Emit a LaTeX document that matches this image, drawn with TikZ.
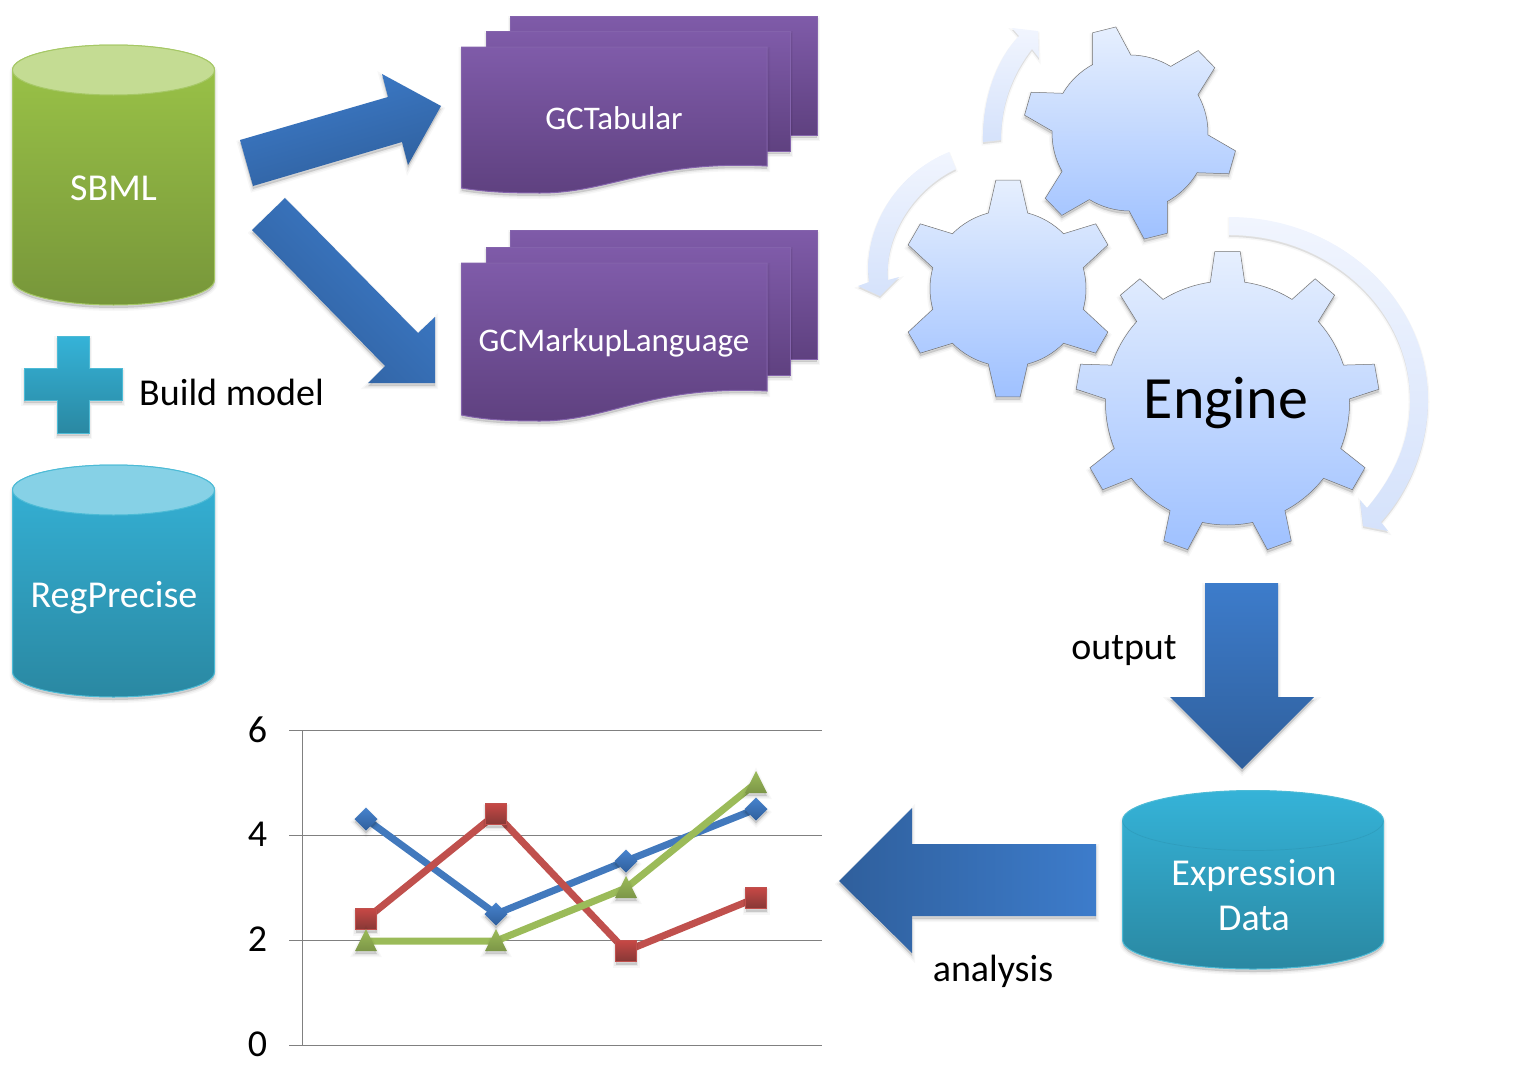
\documentclass[tikz,border=0pt]{standalone}
\usepackage{fontspec}
\setmainfont{Carlito}
\usetikzlibrary{shadings}
\definecolor{grnT}{HTML}{9CC548}
\definecolor{grnB}{HTML}{77963A}
\definecolor{grnE}{HTML}{A6C866}
\definecolor{grnL}{HTML}{C4DC93}
\definecolor{tealT}{HTML}{35B3D8}
\definecolor{tealB}{HTML}{2A88A2}
\definecolor{tealE}{HTML}{4DBBD6}
\definecolor{tealL}{HTML}{86D1E6}
\definecolor{purT}{HTML}{7F5BA9}
\definecolor{purB}{HTML}{5F4180}
\definecolor{purE}{HTML}{8463AC}
\definecolor{bluA}{HTML}{3D7CCB}
\definecolor{bluB}{HTML}{2F5F9C}
\definecolor{gearT}{HTML}{E6EFFE}
\definecolor{gearB}{HTML}{9FC1FF}
\definecolor{arrT}{HTML}{F1F5FE}
\definecolor{arrB}{HTML}{D5E2FB}
\definecolor{chartB}{HTML}{4279BD}
\definecolor{chartR}{HTML}{C0504D}
\definecolor{chartG}{HTML}{9BBB59}
\tikzset{
 soft/.style={
  preaction={draw=black,draw opacity=.03,line width=6pt,transform canvas={yshift=-3pt}},
  preaction={draw=black,draw opacity=.05,line width=3pt,transform canvas={yshift=-3pt}},
  preaction={fill=black,fill opacity=.14,transform canvas={yshift=-3pt}}},
 faint/.style={
  preaction={draw=black,draw opacity=.03,line width=3pt,transform canvas={yshift=-2pt}},
  preaction={fill=black,fill opacity=.10,transform canvas={yshift=-2pt}}},
 grncyl/.style={soft,top color=grnT,bottom color=grnB,draw=grnE,line width=1pt},
 tealcyl/.style={soft,top color=tealT,bottom color=tealB,draw=tealE,line width=1pt},
 doc/.style={soft,top color=purT,bottom color=purB,draw=purE,line width=1pt},
 blockv/.style={soft,top color=bluA,bottom color=bluB},
 gearbody/.style={soft,top color=gearT,bottom color=gearB,draw=black!55,line width=.5pt},
 swirl/.style={faint,top color=arrT,bottom color=arrB},
 lab/.style={inner sep=0pt,font=\fontsize{38}{46}\selectfont},
 labw/.style={lab,text=white},
 axisline/.style={draw=black!50,line width=1pt},
 serie/.style={line width=7pt,line join=round},
}
\newcommand{\gearpath}[9]{% cx cy Rb Rt teeth offset db dt style
 \pgfmathsetmacro{\gstep}{360/#5}
 \pgfmathsetmacro{\glast}{#5-1}
 \path[#9] ({#1+#3*cos(#6+#7)},{#2-#3*sin(#6+#7)})
 \foreach \k in {0,...,\glast} {
   \pgfextra{\pgfmathsetmacro{\ga}{#6-\k*\gstep}}
   -- ({#1+#4*cos(\ga+#8)},{#2-#4*sin(\ga+#8)})
   -- ({#1+#4*cos(\ga-#8)},{#2-#4*sin(\ga-#8)})
   -- ({#1+#3*cos(\ga-#7)},{#2-#3*sin(\ga-#7)})
   arc[start angle={-(\ga-#7)},end angle={-(\ga-\gstep+#7)},radius=#3]
 } -- cycle;
}
\begin{document}
\begin{tikzpicture}[x=1pt,y=-1pt]
\useasboundingbox (0,0) rectangle (1540,1079);
% cylinders
\path[grncyl] (12.5,70) -- (12.5,280) arc[start angle=180,end angle=360,x radius=101,y radius=-25] -- (214.5,70) arc[start angle=0,end angle=180,x radius=101,y radius=-25] -- cycle;
\path[draw=grnE,fill=grnL,line width=1pt] (113.5,70) ellipse[x radius=101,y radius=25];
\node[labw] (sbml) at (113.5,188) {SBML};
\path[tealcyl] (12.5,490) -- (12.5,672) arc[start angle=180,end angle=360,x radius=101,y radius=-25] -- (214.5,490) arc[start angle=0,end angle=180,x radius=101,y radius=-25] -- cycle;
\path[draw=tealE,fill=tealL,line width=1pt] (113.5,490) ellipse[x radius=101,y radius=25];
\node[labw] (regprecise) at (114,598) {RegPrecise};
% plus
\path[soft,top color=tealT,bottom color=tealB,draw=tealE,line width=.8pt] (57,336)--(89,336)--(89,368)--(122,368)--(122,400)--(89,400)--(89,433)--(57,433)--(57,400)--(24,400)--(24,368)--(57,368)--cycle;
\node[lab,anchor=west] (build) at (139,392) {Build model};
% block arrows
\path[soft,top color=bluA,bottom color=bluB,shading angle=16] (240,140)--(388,97)--(382,74)--(441,106)--(408,165)--(402,142)--(253,186)--cycle;
\path[soft,top color=bluA,bottom color=bluB,shading angle=-45] (285,198)--(418,333)--(435,317)--(435,383)--(368,383)--(385,366)--(252,230)--cycle;
% documents 1
\path[doc] (510.5,16)--(817,16)--(817,135)--(510.5,135)--cycle;
\path[doc] (486.5,31)--(790,31)--(790,151)--(486.5,151)--cycle;
\path[doc] (461.5,47)--(767,47)--(767,166) .. controls (650,160) and (610,193) .. (540,193) .. controls (510,193) and (485,192) .. (461.5,188) --cycle;
\node[labw,font=\fontsize{33}{40}\selectfont] (gct) at (614,118) {GCTabular};
% documents 2
\path[doc] (510.5,230)--(817,230)--(817,359)--(510.5,359)--cycle;
\path[doc] (486.5,247)--(790,247)--(790,375)--(486.5,375)--cycle;
\path[doc] (461.5,263)--(767,263)--(767,391) .. controls (650,385) and (610,421) .. (540,421) .. controls (510,421) and (485,420) .. (461.5,415) --cycle;
\node[labw,font=\fontsize{33}{40}\selectfont] (gcm) at (614,343) {GCMarkupLanguage};
% swirl arrows
\path[swirl] (1229,217) .. controls (1340,217) and (1428,300) .. (1428,400) .. controls (1428,445) and (1410,490) .. (1381,522) -- (1388,531) -- (1363,526) -- (1360,500) -- (1367,508) .. controls (1395,475) and (1410,440) .. (1410,400) .. controls (1410,310) and (1330,235) .. (1229,235) -- cycle;
\path[swirl] (949,152) .. controls (900,172) and (868,220) .. (868,270) -- (869,282) -- (858,286) -- (880,296) -- (899,277) -- (888,280) .. controls (884,235) and (915,188) .. (956,169) -- cycle;
\path[swirl] (983,142) .. controls (982,100) and (996,60) .. (1019,36) -- (1012,28) -- (1038,31) -- (1039,58) -- (1032,49) .. controls (1012,75) and (1001,105) .. (1001,140) -- cycle;
% gears
\gearpath{1130}{133}{78}{107}{6}{104}{14.6}{6.4}{gearbody}
\gearpath{1008}{288.5}{78}{109}{6}{90}{14.6}{6.4}{gearbody}
\gearpath{1227.5}{403}{122}{152}{9}{90}{8.1}{4.8}{gearbody}
\node[inner sep=0pt,font=\fontsize{60}{66}\selectfont] (engine) at (1226,403) {Engine};
% arrows lower
\path[blockv] (1205,583)--(1278,583)--(1278,697)--(1314,697)--(1242,769)--(1170,697)--(1205,697)--cycle;
\path[soft,left color=bluB,right color=bluA] (1096,844)--(912,844)--(912,808)--(839,881)--(912,953)--(912,916)--(1096,916)--cycle;
\node[lab] (output) at (1124,651) {output};
\node[lab] (analysis) at (993,971) {analysis};
% expression data
\path[tealcyl] (1122.5,820.5) -- (1122.5,940) arc[start angle=180,end angle=360,x radius=130.5,y radius=-29] -- (1383.5,820.5) arc[start angle=0,end angle=180,x radius=130.5,y radius=-30] -- cycle;
\path[draw=tealB!60!tealT,line width=.7pt,draw opacity=.7] (1122.5,820.5) arc[start angle=180,end angle=360,x radius=130.5,y radius=-30];
\node[labw,align=center,font=\fontsize{38}{45}\selectfont] (expr) at (1254,895) {Expression\\Data};
% chart
\foreach \yy/\tt in {730.5/6,835.5/4,940.5/2,1045.5/0}{
 \draw[axisline] (289,\yy)--(822,\yy);
 \node[lab] at (257.5,\yy-1) {\tt};
}
\draw[axisline] (302,730.5)--(302,1045.5);
\draw[serie,chartB] (366,819)--(496,914)--(626,861)--(756,809);
\draw[serie,chartR] (366,919)--(496,814)--(626,951)--(756,898);
\draw[serie,chartG] (366,941)--(496,941)--(626,888)--(756,783);
\foreach \px/\py in {366/819,496/914,626/861,756/809}{
 \path[soft,top color=bluA!95!white,bottom color=bluB] (\px-11.5,\py)--(\px,\py-11.5)--(\px+11.5,\py)--(\px,\py+11.5)--cycle;}
\foreach \px/\py in {366/919,496/814,626/951,756/898}{
 \path[soft,top color=chartR!90!red,bottom color=chartR!70!black,draw=chartR,line width=.5pt] (\px-10.5,\py-10.5) rectangle (\px+10.5,\py+10.5);}
\foreach \px/\py in {366/941,496/941,626/888,756/783}{
 \path[soft,top color=chartG,bottom color=chartG!80!black] (\px-11,\py+10)--(\px,\py-12)--(\px+11,\py+10)--cycle;}
\end{tikzpicture}
\end{document}
